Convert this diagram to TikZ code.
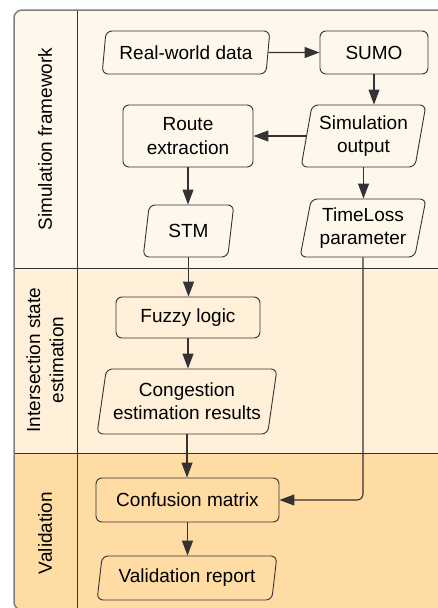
\documentclass[tikz,border=0pt]{standalone}
\usepackage{fontspec}
\setmainfont{Liberation Sans}
\usetikzlibrary{shapes.geometric,arrows.meta}
\definecolor{bandA}{HTML}{FEF8EC}
\definecolor{bandB}{HTML}{FEF0D9}
\definecolor{bandC}{HTML}{FEDCA4}
\definecolor{ink}{HTML}{333333}
\definecolor{framec}{HTML}{7F7F7F}
\tikzset{
  procbox/.style={draw=ink, line width=0.9pt, rounded corners=6pt, inner sep=0pt, align=center},
  databox/.style={trapezium, trapezium left angle=77, trapezium right angle=103, trapezium stretches=true,
    draw=ink, line width=0.9pt, rounded corners=6pt, inner sep=0pt, align=center},
  edge/.style={draw=ink, line width=1.1pt, -{Triangle[length=15pt,width=11pt]}},
  lanelabel/.style={rotate=90, align=center, inner sep=0pt},
  laneline/.style={draw=ink, line width=0.9pt}
}
\begin{document}
\begin{tikzpicture}[x=1pt,y=-1pt,font=\fontsize{19}{23.3}\selectfont]
\useasboundingbox (0,0) rectangle (438,608);
\clip (0,0) rectangle (438,608);
\begin{scope}
  \clip[rounded corners=8pt] (14,10) rectangle (460,610);
  \fill[bandA] (14,10) rectangle (460,268);
  \fill[bandB] (14,268) rectangle (460,453);
  \fill[bandC] (14,453) rectangle (460,610);
\end{scope}
\draw[laneline] (77,10) -- (77,610);
\draw[laneline] (14,268) -- (460,268);
\draw[laneline] (14,453) -- (460,453);
\draw[framec, line width=1.5pt, rounded corners=8pt] (14,10) rectangle (460,610);

\node[lanelabel] (lab1) at (45,139) {Simulation framework};
\node[lanelabel] (lab2) at (45,360) {Intersection state\\estimation};
\node[lanelabel] (lab3) at (45,533) {Validation};

\node[databox, minimum width=168pt, minimum height=43pt] (rw) at (186,52.5) {Real-world data};
\node[procbox, minimum width=108pt, minimum height=43pt] (sumo) at (374,52.5) {SUMO};
\node[procbox, minimum width=130pt, minimum height=62pt] (route) at (188,136) {Route\\extraction};
\node[databox, minimum width=125pt, minimum height=62pt] (simout) at (363.5,136) {Simulation\\output};
\node[databox, minimum width=91pt, minimum height=52pt] (stm) at (188.5,231) {STM};
\node[databox, minimum width=126pt, minimum height=58pt] (tl) at (363,228) {TimeLoss\\parameter};
\node[procbox, minimum width=144pt, minimum height=41pt] (fuzzy) at (188,317.5) {Fuzzy logic};
\node[databox, minimum width=180pt, minimum height=65pt] (cong) at (187,401.5) {Congestion\\estimation results};
\node[procbox, minimum width=183pt, minimum height=44pt] (conf) at (187.5,500) {Confusion matrix};
\node[databox, minimum width=180pt, minimum height=44pt] (vrep) at (187,578) {Validation report};

\draw[edge] (rw.east) -- (sumo.west);
\draw[edge] (sumo.south) -- (sumo.south |- simout.north);
\draw[edge] (simout.west) -- (route.east |- simout.west);
\draw[edge] (route.south) -- (route.south |- stm.north);
\draw[edge] (simout.south) -- (simout.south |- tl.north);
\draw[edge] (stm.south) -- (stm.south |- fuzzy.north);
\draw[edge] (fuzzy.south) -- (fuzzy.south |- cong.north);
\draw[edge] (cong.south) -- (cong.south |- conf.north);
\draw[edge, rounded corners=6pt] (tl.south) |- (conf.east);
\draw[edge] (conf.south) -- (conf.south |- vrep.north);
\end{tikzpicture}
\end{document}
